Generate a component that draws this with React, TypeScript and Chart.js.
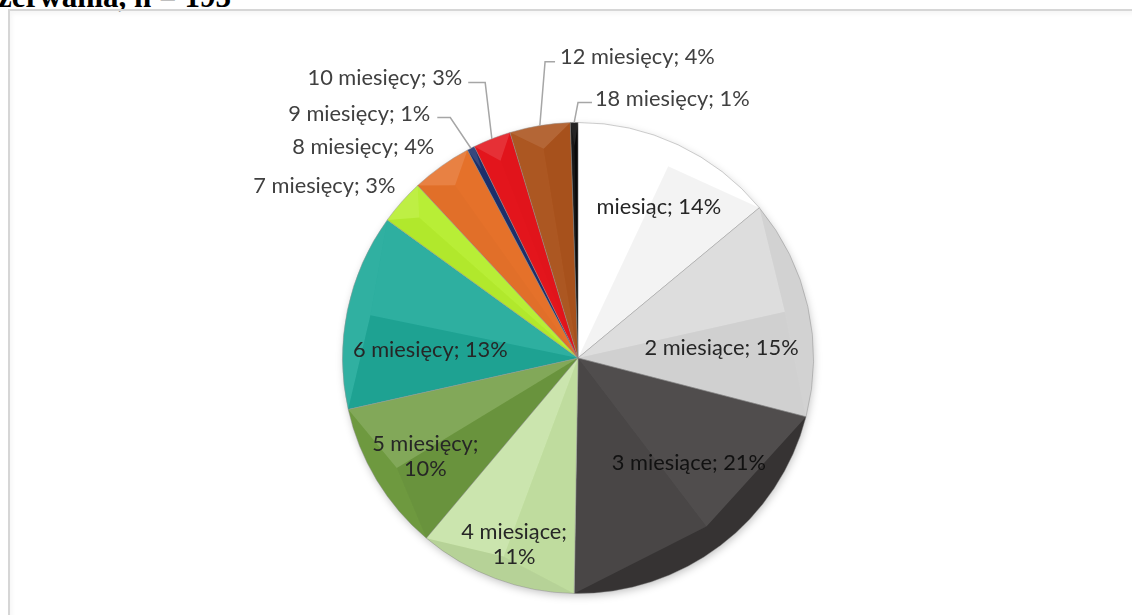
import React, { useEffect, useRef } from "react";
import { Chart, registerables } from "chart.js";

Chart.register(...registerables);

// ---------- data ----------
const TITLE = "zerwania, n = 193";
const categories = [
  "miesiąc",
  "2 miesiące",
  "3 miesiące",
  "4 miesiące",
  "5 miesięcy",
  "6 miesięcy",
  "7 miesięcy",
  "8 miesięcy",
  "9 miesięcy",
  "10 miesięcy",
  "12 miesięcy",
  "18 miesięcy",
];
const counts = [27, 29, 41, 21, 20, 26, 6, 8, 1, 5, 8, 1];
const sliceColors = [
  "#ffffff",
  "#d8d8d8",
  "#3c3939",
  "#c4e2a2",
  "#6f9b40",
  "#20aa9a",
  "#b6ee2e",
  "#e5712a",
  "#1c2f6b",
  "#e3151c",
  "#ab531d",
  "#0a0a0a",
];

// ---------- label layout (not data) ----------
// inside labels: [angle from top clockwise (deg), radius fraction, multiline]
const insideLayout: Record<number, [number, number, boolean]> = {
  0: [28.2, 0.726, false],
  1: [86.0, 0.611, false],
  2: [133.4, 0.648, false],
  3: [198.9, 0.837, true],
  4: [237.1, 0.772, true],
  5: [273.1, 0.628, false],
};
// outside labels: text anchor offset from centre (px at r=236), alignment, leader elbow points
const outsideLayout: Record<
  number,
  { dx: number; dy: number; align: "left" | "right"; leader?: [number, number][] }
> = {
  6: { dx: -183, dy: -172, align: "right" },
  7: { dx: -144, dy: -211, align: "right" },
  8: { dx: -148, dy: -245, align: "right", leader: [[-141, -241], [-128, -241]] },
  9: { dx: -116, dy: -281, align: "right", leader: [[-110, -276], [-93, -276]] },
  10: { dx: -18, dy: -302, align: "left", leader: [[-23, -297], [-33, -297]] },
  11: { dx: 17, dy: -260, align: "left", leader: [[14, -256], [0, -256]] },
};

const FONT = "Lato";
const FONT_SIZE = 21.8;
const total = counts.reduce((a, b) => a + b, 0);
const pctText = (i: number) => `${Math.round((counts[i] / total) * 100)}%`;

const bevelPlugin = {
  id: "bevel",
  beforeDatasetsDraw(chart: any) {
    const meta = chart.getDatasetMeta(0);
    const a = meta.data[0];
    if (!a) return;
    const ctx = chart.ctx;
    ctx.save();
    ctx.shadowColor = "rgba(0,0,0,0.25)";
    ctx.shadowBlur = 8;
    ctx.shadowOffsetX = 1;
    ctx.shadowOffsetY = 3;
    ctx.fillStyle = "#ffffff";
    ctx.beginPath();
    ctx.arc(a.x, a.y, a.outerRadius - 1, 0, Math.PI * 2);
    ctx.fill();
    ctx.restore();
  },
  afterDatasetsDraw(chart: any) {
    const ctx = chart.ctx;
    const meta = chart.getDatasetMeta(0);
    const L = [-0.45, -0.89];
    const shade = (n: number[], kPos: number, kNeg: number) => {
      const d = n[0] * L[0] + n[1] * L[1];
      return d >= 0 ? `rgba(255,255,255,${(kPos * d).toFixed(3)})` : `rgba(0,0,0,${(kNeg * -d).toFixed(3)})`;
    };
    meta.data.forEach((arc: any) => {
      const { x, y, startAngle: s, endAngle: e, outerRadius: r } = arc.getProps(
        ["x", "y", "startAngle", "endAngle", "outerRadius"],
        true
      );
      const m = (s + e) / 2;
      const w = Math.min(24, r * 0.1);
      const R = [x + (r - w) * Math.cos(m), y + (r - w) * Math.sin(m)];
      const Ps = [x + r * Math.cos(s), y + r * Math.sin(s)];
      const Pe = [x + r * Math.cos(e), y + r * Math.sin(e)];
      ctx.save();
      ctx.fillStyle = shade([Math.sin(s), -Math.cos(s)], 0.14, 0.05);
      ctx.beginPath();
      ctx.moveTo(x, y);
      ctx.lineTo(Ps[0], Ps[1]);
      ctx.lineTo(R[0], R[1]);
      ctx.closePath();
      ctx.fill();
      ctx.fillStyle = shade([-Math.sin(e), Math.cos(e)], 0.14, 0.05);
      ctx.beginPath();
      ctx.moveTo(x, y);
      ctx.lineTo(Pe[0], Pe[1]);
      ctx.lineTo(R[0], R[1]);
      ctx.closePath();
      ctx.fill();
      ctx.fillStyle = shade([Math.cos(m), Math.sin(m)], 0.12, 0.1);
      ctx.beginPath();
      ctx.moveTo(Ps[0], Ps[1]);
      ctx.arc(x, y, r, s, e);
      ctx.lineTo(R[0], R[1]);
      ctx.closePath();
      ctx.fill();
      ctx.restore();
    });
  },
  afterDraw(chart: any) {
    const ctx = chart.ctx;
    const meta = chart.getDatasetMeta(0);
    const a0 = meta.data[0];
    if (!a0) return;
    const cx = a0.x;
    const cy = a0.y;
    const r = a0.outerRadius;
    const sc = r / 236;
    ctx.save();
    ctx.font = `${FONT_SIZE}px ${FONT}`;
    ctx.textBaseline = "middle";
    categories.forEach((cat, i) => {
      const txt = `${cat}; ${pctText(i)}`;
      const inside = insideLayout[i];
      if (inside) {
        const [deg, f, multi] = inside;
        const t = (deg * Math.PI) / 180;
        const px = cx + Math.sin(t) * r * f;
        const py = cy - Math.cos(t) * r * f;
        ctx.fillStyle = i === 2 ? "#111111" : "#262626";
        ctx.textAlign = "center";
        if (multi) {
          ctx.fillText(`${cat};`, px, py - 12.5);
          ctx.fillText(pctText(i), px, py + 12.5);
        } else {
          ctx.fillText(txt, px, py);
        }
        return;
      }
      const o = outsideLayout[i];
      if (!o) return;
      const arc = meta.data[i];
      const m = (arc.startAngle + arc.endAngle) / 2;
      if (o.leader) {
        ctx.strokeStyle = "#a6a6a6";
        ctx.lineWidth = 1.5;
        ctx.beginPath();
        ctx.moveTo(cx + o.leader[0][0] * sc, cy + o.leader[0][1] * sc);
        ctx.lineTo(cx + o.leader[1][0] * sc, cy + o.leader[1][1] * sc);
        ctx.lineTo(cx + r * Math.cos(m), cy + r * Math.sin(m));
        ctx.stroke();
      }
      ctx.fillStyle = "#404040";
      ctx.textAlign = o.align;
      ctx.fillText(txt, cx + o.dx * sc, cy + o.dy * sc);
    });
    ctx.restore();
  },
};

export default function App() {
  const ref = useRef<HTMLCanvasElement | null>(null);
  useEffect(() => {
    if (!ref.current) return;
    const chart = new Chart(ref.current, {
      type: "pie",
      data: {
        labels: categories,
        datasets: [
          {
            data: counts,
            backgroundColor: sliceColors,
            borderColor: "rgba(140,140,140,0.45)",
            borderWidth: 1,
          },
        ],
      },
      options: {
        responsive: false,
        animation: false,
        layout: { padding: { left: 342, right: 318, top: 122, bottom: 21 } },
        plugins: { legend: { display: false }, tooltip: { enabled: false } },
      },
      plugins: [bevelPlugin],
    });
    return () => chart.destroy();
  }, []);

  return (
    <div style={{ position: "fixed", left: 0, top: 0, width: 1132, height: 615, overflow: "hidden", background: "#fff" }}>
      <div
        style={{
          position: "absolute",
          left: -2,
          top: -19,
          fontFamily: "'Liberation Serif', serif",
          fontWeight: "bold",
          fontSize: 31,
          lineHeight: "31px",
          whiteSpace: "nowrap",
          color: "#000",
        }}
      >
        {TITLE}
      </div>
      <div
        style={{
          position: "absolute",
          left: 8,
          top: 9,
          width: 1200,
          height: 700,
          borderTop: "2px solid #d6d6d6",
          borderLeft: "2px solid #d6d6d6",
          boxShadow: "inset 2px 3px 4px rgba(0,0,0,0.04)",
        }}
      />
      <canvas ref={ref} width={1132} height={615} style={{ position: "absolute", left: 0, top: 0 }} />
    </div>
  );
}
